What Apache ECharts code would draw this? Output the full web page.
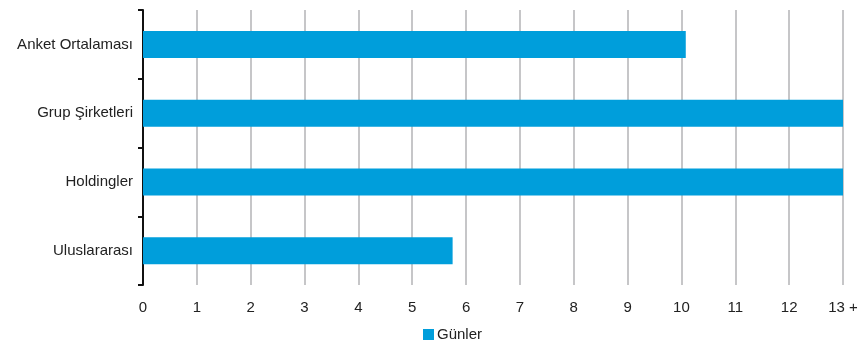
<!DOCTYPE html>
<html><head><meta charset="utf-8">
<script src="https://cdn.jsdelivr.net/npm/echarts@6/dist/echarts.min.js"></script>
<style>html,body{margin:0;padding:0;background:#fff}#c{width:865px;height:344px}</style>
</head><body><div id="c"></div>
<script>
const categories = ["Anket Ortalaması", "Grup Şirketleri", "Holdingler", "Uluslararası"];
const values = [10.08, 13, 13, 5.75];
const seriesName = "Günler";
const tickLabels = ["0","1","2","3","4","5","6","7","8","9","10","11","12","13 +"];

const chart = echarts.init(document.getElementById('c'), null, {renderer:'canvas'});
chart.setOption({
  animation:false,
  textStyle:{fontFamily:'Liberation Sans, Arial, sans-serif'},
  grid:{left:143, right:22, top:10, bottom:59},
  legend:{
    data:[seriesName], left:418, top:322, icon:'rect', itemWidth:11, itemHeight:11, itemGap:4,
    textStyle:{fontSize:15, color:'#222', fontFamily:'Liberation Sans, Arial, sans-serif', padding:[0,0,0,-2]}
  },
  xAxis:{
    type:'value', min:0, max:13, interval:1,
    axisLine:{show:false}, axisTick:{show:false},
    axisLabel:{fontSize:15, color:'#222', margin:15, formatter:(v)=>tickLabels[Math.round(v)]},
    splitLine:{show:true, lineStyle:{color:'#c6c6c8', width:2}}
  },
  yAxis:{
    type:'category', data:categories, inverse:true,
    axisLine:{show:true, lineStyle:{color:'#111', width:2}},
    axisTick:{show:true, inside:false, length:5, lineStyle:{color:'#111', width:2}},
    axisLabel:{fontSize:15, color:'#222', margin:10}
  },
  series:[{
    name:seriesName, type:'bar', data:values, barWidth:27,
    itemStyle:{color:'#009edb'}
  }]
});
</script></body></html>
